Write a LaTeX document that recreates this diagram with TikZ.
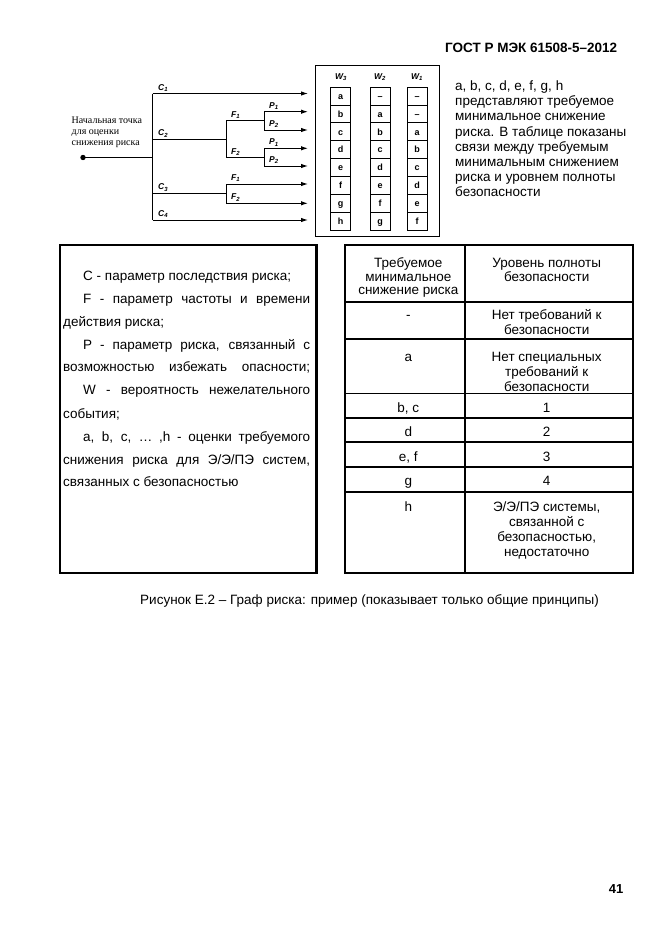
\documentclass[tikz,border=0pt]{standalone}
\usepackage{fontspec}
\setmainfont{Liberation Sans}
\newfontfamily\serifl{Liberation Serif}
\usetikzlibrary{arrows.meta}
\newcommand{\fl}{\vphantom{Бб}}
\begin{document}
\begin{tikzpicture}[x=1pt,y=-1pt,
  tx/.style={inner sep=0pt, font=\fontsize{13.5}{15}\selectfont},
  ttx/.style={inner sep=0pt, align=center, anchor=north, font=\fontsize{13.5}{15}\selectfont},
  lbl/.style={inner sep=0pt, font=\fontsize{8.5}{9}\selectfont\bfseries\itshape},
  cell/.style={draw, line width=0.8pt, minimum width=20pt, minimum height=17.9pt, inner sep=0pt, text height=6.5pt, text depth=0pt, font=\fontsize{9}{10}\selectfont\bfseries},
  ln/.style={line width=1pt},
  arr/.style={line width=1pt, -{Latex[length=7pt,width=4.5pt]}}]
\fill[white] (0,0) rectangle (662,935);
\useasboundingbox (0,0) rectangle (662,935);

% header and page number
\node[anchor=base west, inner sep=0pt, font=\fontsize{13.5}{16}\selectfont\bfseries] (hdr) at (445,52) {ГОСТ Р МЭК 61508-5–2012};
\node[inner sep=0pt, font=\fontsize{13}{16}\selectfont\bfseries] (pg) at (616,889) {41};

% start label
\node[anchor=west, align=left, inner sep=0pt, font=\fontsize{10}{11}\selectfont\serifl] (start) at (71.5,132) {Начальная точка\\для оценки\\снижения риска};

% graph coordinates
\coordinate (dot) at (83,157.5);
\coordinate (t0) at (152.5,157.5);
\coordinate (tC1) at (152.5,93.5);
\coordinate (tC2) at (152.5,139.3);
\coordinate (tC3) at (152.5,193.3);
\coordinate (tC4) at (152.5,220);
\coordinate (fA) at (226,139.3);
\coordinate (fA1) at (226,120.7);
\coordinate (fA2) at (226,157.5);
\coordinate (pA) at (264.3,120.7);
\coordinate (pA1) at (264.3,111.7);
\coordinate (pA2) at (264.3,130);
\coordinate (pB) at (264.3,157.5);
\coordinate (pB1) at (264.3,148.3);
\coordinate (pB2) at (264.3,166);
\coordinate (fB) at (226,193.3);
\coordinate (fB1) at (226,184);
\coordinate (fB2) at (226,203.3);
\coordinate (e1) at (308,93.5);
\coordinate (e2) at (308,111.7);
\coordinate (e3) at (308,130);
\coordinate (e4) at (308,148.3);
\coordinate (e5) at (308,166);
\coordinate (e6) at (308,184);
\coordinate (e7) at (308,203.3);
\coordinate (e8) at (308,220);

\fill (dot) circle (2.7);
\draw[ln] (dot) -- (t0);
\draw[ln] (tC1) -- (tC4);
\draw[arr] (tC1) -- (e1);
\draw[ln] (tC2) -- (fA);
\draw[ln] (fA1) -- (fA2);
\draw[ln] (fA1) -- (pA);
\draw[ln] (pA1) -- (pA2);
\draw[arr] (pA1) -- (e2);
\draw[arr] (pA2) -- (e3);
\draw[ln] (fA2) -- (pB);
\draw[ln] (pB1) -- (pB2);
\draw[arr] (pB1) -- (e4);
\draw[arr] (pB2) -- (e5);
\draw[ln] (tC3) -- (fB);
\draw[ln] (fB1) -- (fB2);
\draw[arr] (fB1) -- (e6);
\draw[arr] (fB2) -- (e7);
\draw[arr] (tC4) -- (e8);

% labels
\node[lbl, anchor=base west] (lc1) at (158,90) {C\textsubscript{1}};
\node[lbl, anchor=base west] (lc2) at (158,135.8) {C\textsubscript{2}};
\node[lbl, anchor=base west] (lc3) at (158,189.8) {C\textsubscript{3}};
\node[lbl, anchor=base west] (lc4) at (158,216.5) {C\textsubscript{4}};
\node[lbl, anchor=base west] (lf1) at (231,117.2) {F\textsubscript{1}};
\node[lbl, anchor=base west] (lf2) at (231,154) {F\textsubscript{2}};
\node[lbl, anchor=base west] (lf3) at (231,180.5) {F\textsubscript{1}};
\node[lbl, anchor=base west] (lf4) at (231,199.8) {F\textsubscript{2}};
\node[lbl, anchor=base west] (lp1) at (269,108.2) {P\textsubscript{1}};
\node[lbl, anchor=base west] (lp2) at (269,126.5) {P\textsubscript{2}};
\node[lbl, anchor=base west] (lp3) at (269,144.8) {P\textsubscript{1}};
\node[lbl, anchor=base west] (lp4) at (269,162.5) {P\textsubscript{2}};

% W box
\draw[line width=0.9pt] (315,65) rectangle (439.5,236.5);
\node[lbl] (lw3) at (341,77) {W\textsubscript{3}};
\node[lbl] (lw2) at (380,77) {W\textsubscript{2}};
\node[lbl] (lw1) at (417,77) {W\textsubscript{1}};
\foreach \col/\x/\lst in {3/340.5/{a,b,c,d,e,f,g,h}, 2/380/{–,a,b,c,d,e,f,g}, 1/417/{–,–,a,b,c,d,e,f}} {
  \foreach \t [count=\i] in \lst {
    \node[cell] (w\col r\i) at (\x, 87+17.9*\i-8.95) {\t};
  }
}

% right paragraph
\foreach \s [count=\i] in {{a, b, c, d, e, f, g, h},{представляют требуемое},{минимальное снижение},{риска. В таблице показаны},{связи между требуемым},{минимальным снижением},{риска и уровнем полноты},{безопасности}} {
  \node[tx, anchor=base west] (p\i) at (455, 90.5+15.2*\i-15.2) {\s};
}

% left box
\draw[line width=2.5pt] (60,245) rectangle (316.5,573);
\node[tx, anchor=base west] (l1) at (83,280) {C - параметр последствия риска;};
\node[tx, anchor=base west] (l2) at (83,303) {\makebox[227pt][s]{F - параметр частоты и времени}};
\node[tx, anchor=base west] (l3) at (63,326) {действия риска;};
\node[tx, anchor=base west] (l4) at (83,349) {\makebox[227pt][s]{P - параметр риска, связанный с}};
\node[tx, anchor=base west] (l5) at (63,371.5) {\makebox[247pt][s]{возможностью избежать опасности;}};
\node[tx, anchor=base west] (l6) at (83,394.5) {\makebox[227pt][s]{W - вероятность нежелательного}};
\node[tx, anchor=base west] (l7) at (63,418) {события;};
\node[tx, anchor=base west] (l8) at (83,441.5) {\makebox[227pt][s]{a, b, c, … ,h - оценки требуемого}};
\node[tx, anchor=base west] (l9) at (63,464) {\makebox[247pt][s]{снижения риска для Э/Э/ПЭ систем,}};
\node[tx, anchor=base west] (l10) at (63,486.5) {связанных с безопасностью};

% table
\draw[line width=2pt] (345,245) rectangle (633.3,573.3);
\draw[line width=2pt] (465,245) -- (465,573.3);
\foreach \yy in {301.7,339,393.3,417.7,441.7,466.7,491.7} {
  \draw[line width=1.6pt] (345,\yy) -- (633.3,\yy);
}
\node[ttx, font=\fontsize{13.5}{13.2}\selectfont] (h1) at (408.3,257.7) {\fl Требуемое\\минимальное\\снижение риска};
\node[ttx, font=\fontsize{13.5}{13.2}\selectfont] (h2) at (546.7,257.7) {\fl Уровень полноты\\безопасности};
\node[ttx] (r1a) at (408.3,309.7) {\fl -};
\node[ttx] (r1b) at (546.7,309.7) {\fl Нет требований к\\безопасности};
\node[ttx] (r2a) at (408.3,351.4) {\fl a};
\node[ttx] (r2b) at (546.7,351.4) {\fl Нет специальных\\требований к\\безопасности};
\node[ttx] (r3a) at (408.3,402.7) {\fl b, c};
\node[ttx] (r3b) at (546.7,402.7) {\fl 1};
\node[ttx] (r4a) at (408.3,426.4) {\fl d};
\node[ttx] (r4b) at (546.7,426.4) {\fl 2};
\node[ttx] (r5a) at (408.3,451.4) {\fl e, f};
\node[ttx] (r5b) at (546.7,451.4) {\fl 3};
\node[ttx] (r6a) at (408.3,475.2) {\fl g};
\node[ttx] (r6b) at (546.7,475.2) {\fl 4};
\node[ttx] (r7a) at (408.3,501.4) {\fl h};
\node[ttx] (r7b) at (546.7,501.4) {\fl Э/Э/ПЭ системы,\\связанной с\\безопасностью,\\недостаточно};

% caption
\node[tx, anchor=base west] (cap) at (140,604.5) {Рисунок Е.2 – Граф риска: пример (показывает только общие принципы)};
\end{tikzpicture}
\end{document}
